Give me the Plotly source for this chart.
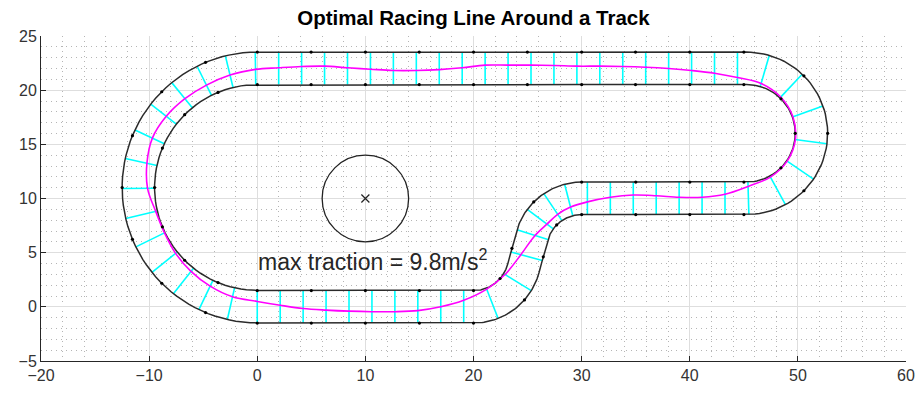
import numpy as np
import plotly.graph_objects as go

TITLE = "Optimal Racing Line Around a Track"
LABEL = "max traction = 9.8m/s<sup>2</sup>"
X_RANGE = [-20, 60]
Y_RANGE = [-5, 25]
X_TICKS = [-20, -10, 0, 10, 20, 30, 40, 50, 60]
Y_TICKS = [-5, 0, 5, 10, 15, 20, 25]

TRACK_WIDTH = 3.0
START = (0.0, 0.0)          # start of the centre line, heading +x
# centre-line segments: ("line", length) or ("arc", radius, turn in degrees, + = left)
SEGMENTS = [("line", 20.0), ("arc", 4.77, 75.0), ("line", 3.05), ("arc", 4.77, -75.0),
            ("line", 15.25), ("arc", 6.0, 180.0), ("line", 45.25), ("arc", 11.0, 180.0)]
# boundary knots: (segment index, fraction along segment)
KNOTS = ([(0, f) for f in (0, 0.25, 0.5, 0.75, 1.0)] + [(1, 0.65), (2, 0.5), (3, 0.4)] +
         [(4, f) for f in (0.0, 0.328, 0.656, 0.984)] +
         [(5, f) for f in (0.25, 0.5, 0.75)] +
         [(6, f) for f in (0.0055, 0.116, 0.227, 0.337, 0.448, 0.558, 0.669, 0.779, 0.890)] +
         [(7, f) for f in (0, 0.125, 0.25, 0.375, 0.5, 0.625, 0.75, 0.875)])
N_SECTIONS = 66
# racing-line lateral offset at each cross-section (+ = toward the left / inner edge)
RACING_OFFSET = [0.5, 0.15, -0.15, -0.3, -0.4, -0.45, -0.45, -0.35, 0.0, 0.6,
                 1.4, 1.35, 0.55, -0.25, -0.77, -0.8, -0.68, -0.33,
                 0.1, 0.3, 0.24, 0.1, 0.1, 0.38, 1.1,
                 1.4, 1.45, 1.45, 1.45, 1.4, 1.2,
                 0.85, 0.45, 0.2, 0.02, -0.1, -0.17, -0.2, -0.2, -0.26, -0.29, -0.29, -0.29,
                 -0.05, 0.12, 0.2, 0.2, 0.08, -0.05, -0.2, -0.17, -0.05, 0.1,
                 0.32, 0.45, 0.42, 0.32, 0.28, 0.55, 0.85, 1.35, 1.45, 1.3, 1.12, 0.9, 0.65]
TRACTION_CENTER = (10.0, 10.0)
TRACTION_RADIUS = 4.0
LABEL_POS = (10.75, 4.35)

FONT = "Liberation Sans, Arial, sans-serif"

# ---------- geometry of the track -----------
half = TRACK_WIDTH / 2.0
starts = []
x, y, h = START[0], START[1], 0.0
for seg in SEGMENTS:
    starts.append((x, y, h))
    if seg[0] == "line":
        x += seg[1] * np.cos(h); y += seg[1] * np.sin(h)
    else:
        r, t = seg[1], np.radians(seg[2])
        s = np.sign(t)
        cx, cy = x - s * r * np.sin(h), y + s * r * np.cos(h)
        h2 = h + t
        x, y, h = cx + s * r * np.sin(h2), cy - s * r * np.cos(h2), h2


def seg_point(i, f):
    x0, y0, h0 = starts[i]
    seg = SEGMENTS[i]
    if seg[0] == "line":
        return x0 + f * seg[1] * np.cos(h0), y0 + f * seg[1] * np.sin(h0), h0
    r, t = seg[1], np.radians(seg[2])
    s = np.sign(t)
    cx, cy = x0 - s * r * np.sin(h0), y0 + s * r * np.cos(h0)
    hh = h0 + f * t
    return cx + s * r * np.sin(hh), cy - s * r * np.cos(hh), hh


def edges(i, f):
    px, py, hh = seg_point(i, f)
    nx, ny = -np.sin(hh), np.cos(hh)
    return (px, py), (px + half * nx, py + half * ny), (px - half * nx, py - half * ny), (nx, ny)


def left_len(seg):
    if seg[0] == "line":
        return seg[1]
    return (seg[1] - np.sign(seg[2]) * half) * abs(np.radians(seg[2]))


# dense boundaries
LX, LY, RX, RY = [], [], [], []
for i, seg in enumerate(SEGMENTS):
    n = 4 if seg[0] == "line" else 60
    for f in np.linspace(0, 1, n):
        _, l, r, _ = edges(i, f)
        LX.append(l[0]); LY.append(l[1]); RX.append(r[0]); RY.append(r[1])
LX.append(LX[0]); LY.append(LY[0]); RX.append(RX[0]); RY.append(RY[0])

# cross-sections, evenly spaced along the left edge
lens = [left_len(s) for s in SEGMENTS]
cum = np.concatenate([[0], np.cumsum(lens)])
total = cum[-1]
CX, CY, MX, MY = [], [], [], []
for k in range(N_SECTIONS):
    sk = k * total / N_SECTIONS
    i = min(int(np.searchsorted(cum, sk, side="right") - 1), len(SEGMENTS) - 1)
    f = (sk - cum[i]) / lens[i]
    c, l, r, nrm = edges(i, f)
    CX += [l[0], r[0], None]; CY += [l[1], r[1], None]
    o = RACING_OFFSET[k]
    MX.append(c[0] + o * nrm[0]); MY.append(c[1] + o * nrm[1])
MX.append(MX[0]); MY.append(MY[0])

KX, KY = [], []
for i, f in KNOTS:
    _, l, r, _ = edges(i, f)
    KX += [l[0], r[0]]; KY += [l[1], r[1]]

# ---------- figure -----------
fig = go.Figure()
fig.add_trace(go.Scatter(x=CX, y=CY, mode="lines", line=dict(color="#00ffff", width=1.6),
                         hoverinfo="skip", showlegend=False))
for bx, by in ((LX, LY), (RX, RY)):
    fig.add_trace(go.Scatter(x=bx, y=by, mode="lines", line=dict(color="#2b2b2b", width=1.5),
                             hoverinfo="skip", showlegend=False))
fig.add_trace(go.Scatter(x=MX, y=MY, mode="lines", line=dict(color="#ff00ff", width=1.6, shape="spline",
                                                             smoothing=1.0),
                         hoverinfo="skip", showlegend=False))
fig.add_trace(go.Scatter(x=KX, y=KY, mode="markers", marker=dict(color="black", size=3.2),
                         hoverinfo="skip", showlegend=False))
fig.add_trace(go.Scatter(x=[TRACTION_CENTER[0]], y=[TRACTION_CENTER[1]], mode="markers",
                         marker=dict(symbol="x-thin", size=8, line=dict(color="#222", width=1.2)),
                         hoverinfo="skip", showlegend=False))
fig.add_shape(type="circle", xref="x", yref="y",
              x0=TRACTION_CENTER[0] - TRACTION_RADIUS, x1=TRACTION_CENTER[0] + TRACTION_RADIUS,
              y0=TRACTION_CENTER[1] - TRACTION_RADIUS, y1=TRACTION_CENTER[1] + TRACTION_RADIUS,
              line=dict(color="#222", width=1.3))
fig.add_annotation(x=LABEL_POS[0], y=LABEL_POS[1], text=LABEL, showarrow=False,
                   font=dict(size=23, color="#262626", family=FONT),
                   xanchor="center", yanchor="middle")

axis_common = dict(showgrid=True, gridcolor="#dedede", gridwidth=1, zeroline=False,
                   showline=True, linecolor="#262626", linewidth=1, ticks="inside", ticklen=5,
                   tickcolor="#262626", tickfont=dict(size=16, color="#333333", family=FONT),
                   mirror=False, layer="below traces", automargin=False)
fig.update_layout(
    width=923, height=395, margin=dict(l=41, r=17, t=36, b=34),
    plot_bgcolor="white", paper_bgcolor="white",
    title=dict(text="<b>" + TITLE + "</b>", x=0.513, xanchor="center", y=0.955, yref="container",
               yanchor="middle", font=dict(size=20.5, color="black", family=FONT)),
    xaxis=dict(range=X_RANGE, tickvals=X_TICKS, **axis_common,
               minor=dict(dtick=2, tick0=0, showgrid=True, gridcolor="#b5b5b5", griddash="1px,4px",
                          gridwidth=1, ticks="")),
    yaxis=dict(range=Y_RANGE, tickvals=Y_TICKS, **axis_common,
               minor=dict(dtick=1, tick0=0, showgrid=True, gridcolor="#b5b5b5", griddash="1px,4px",
                          gridwidth=1, ticks="")),
)
fig.write_html("out.html", config={"displayModeBar": False},
               post_script="document.body.style.margin='0';document.body.style.overflow='hidden';")
